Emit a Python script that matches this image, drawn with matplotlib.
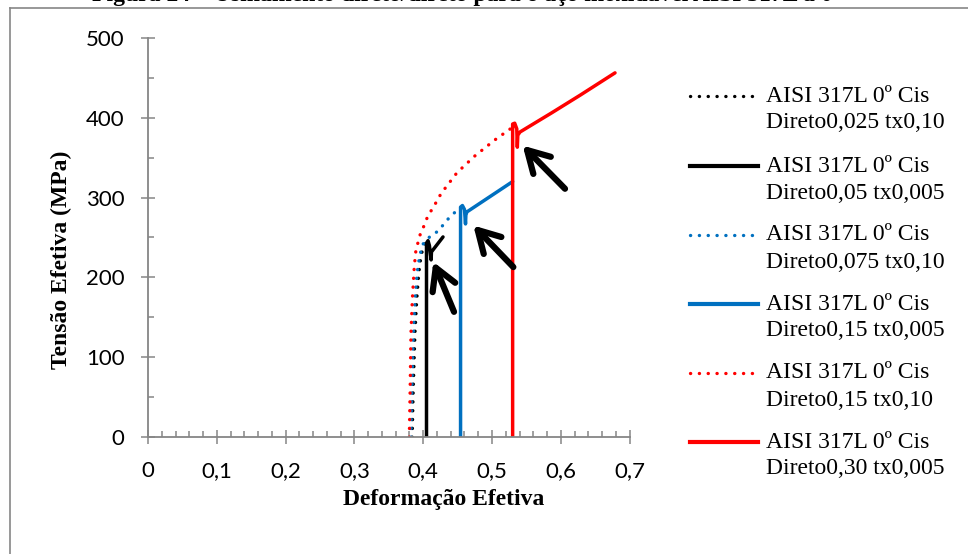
import matplotlib.pyplot as plt
from matplotlib.lines import Line2D
from matplotlib.ticker import MultipleLocator, FuncFormatter

# Curvas tensão x deformação (deformação efetiva, tensão em MPa)
labels = [
    "AISI 317L 0º Cis\nDireto0,025 tx0,10",
    "AISI 317L 0º Cis\nDireto0,05 tx0,005",
    "AISI 317L 0º Cis\nDireto0,075 tx0,10",
    "AISI 317L 0º Cis\nDireto0,15 tx0,005",
    "AISI 317L 0º Cis\nDireto0,15 tx0,10",
    "AISI 317L 0º Cis\nDireto0,30 tx0,005",
]

def_025 = [0.3840, 0.3855, 0.3880, 0.3905, 0.3935, 0.3970, 0.4010, 0.4050]
ten_025 = [0, 60, 130, 171, 205, 228, 240, 245]

def_05 = [0.4048, 0.4048, 0.4070, 0.4090, 0.4115, 0.4120, 0.4288]
ten_05 = [0, 243, 246, 240, 222, 232, 250.7]

def_075 = [0.3822, 0.3835, 0.3857, 0.3880, 0.3910, 0.3950, 0.4000, 0.4096,
           0.4216, 0.4360, 0.4442, 0.4543]
ten_075 = [0, 60, 130, 171, 205, 228, 242, 251, 258, 273, 280, 288]

def_15 = [0.4543, 0.4543, 0.4570, 0.4600, 0.4615, 0.4620, 0.4635, 0.5300]
ten_15 = [0, 288, 290, 285, 267, 278, 282, 320]

def_15b = [0.3798, 0.3810, 0.3822, 0.3841, 0.3870, 0.3894, 0.3960, 0.4014,
           0.4063, 0.4168, 0.4260, 0.4490, 0.4750, 0.5040, 0.5300]
ten_15b = [0, 60, 130, 171, 213, 234, 255, 265, 276, 291, 305, 331, 352, 372, 388]

def_30 = [0.5300, 0.5300, 0.5330, 0.5360, 0.5368, 0.5375, 0.5407, 0.5868,
          0.6280, 0.6788]
ten_30 = [0, 392, 393, 386, 363, 378, 382, 406, 428, 456]

series_x = [def_025, def_05, def_075, def_15, def_15b, def_30]
series_y = [ten_025, ten_05, ten_075, ten_15, ten_15b, ten_30]
colors = ["black", "black", "#0070C0", "#0070C0", "#FF0000", "#FF0000"]
dotted = [True, False, True, False, True, False]

# setas indicando o ponto de escoamento (ponta, cauda)
arrow_tips = [(0.5446, 365), (0.4729, 265), (0.4147, 219.5)]
arrow_tails = [(0.6061, 311), (0.5310, 213), (0.4448, 157)]

DOT = (0, (0.05, 2.6))
GRAY = "#868686"

fig = plt.figure(figsize=(9.68, 5.54), dpi=100)
W, H = 968, 554
ax = fig.add_axes([148 / W, (H - 437.3) / H, (629.6 - 148) / W, (437.3 - 37.7) / H])

for xs, ys, c, d in zip(series_x, series_y, colors, dotted):
    if d:
        ax.plot(xs, ys, color=c, lw=2.4, linestyle=DOT, dash_capstyle="round")
    else:
        ax.plot(xs, ys, color=c, lw=2.5, solid_capstyle="round", solid_joinstyle="round")

for tip, tail in zip(arrow_tips, arrow_tails):
    ax.annotate("", xy=tip, xytext=tail,
                arrowprops=dict(arrowstyle="->,head_length=0.7,head_width=0.4",
                                lw=4.5, color="black", mutation_scale=22,
                                shrinkA=0, shrinkB=0, capstyle="round"))

ax.set_xlim(0, 0.7)
ax.set_ylim(0, 500)
ax.xaxis.set_major_locator(MultipleLocator(0.1))
ax.xaxis.set_minor_locator(MultipleLocator(0.02))
ax.yaxis.set_major_locator(MultipleLocator(100))
ax.yaxis.set_minor_locator(MultipleLocator(50))
ax.xaxis.set_major_formatter(FuncFormatter(lambda v, p: ("%g" % round(v, 2)).replace(".", ",")))

for s in ["top", "right"]:
    ax.spines[s].set_visible(False)
for s in ["left", "bottom"]:
    ax.spines[s].set_color(GRAY)
    ax.spines[s].set_linewidth(1.3)

ax.tick_params(which="major", direction="inout", length=10, width=1.1, color=GRAY,
               labelsize=16, pad=12)
ax.tick_params(which="minor", direction="in", length=4.3, width=1.1, color=GRAY)
for lab in ax.get_xticklabels() + ax.get_yticklabels():
    lab.set_fontfamily("Lato")

ax.set_xlabel("Deformação Efetiva", family="Liberation Serif", fontweight="bold",
              fontsize=17)
ax.set_ylabel("Tensão Efetiva (MPa)", family="Liberation Serif", fontweight="bold",
              fontsize=17)
ax.xaxis.set_label_coords(0.615, -0.13)
ax.yaxis.set_label_coords(-0.158, 0.444)

# legenda à direita, com a amostra da linha alinhada à primeira linha do rótulo
leg_y = [96, 166, 235, 304, 373, 442]
for lab, c, d, yy in zip(labels, colors, dotted, leg_y):
    y0 = 1 - yy / H
    fig.add_artist(Line2D([690 / W, 758 / W], [y0, y0], transform=fig.transFigure,
                          color=c, lw=2.4 if d else 3.0,
                          linestyle=DOT if d else "-", dash_capstyle="round"))
    first, second = lab.split("\n")
    fig.text(766 / W, y0, first, family="Liberation Serif", fontsize=17, va="center")
    fig.text(766 / W, 1 - (yy + 27) / H, second, family="Liberation Serif",
             fontsize=17, va="center")

# moldura do gráfico e legenda da figura cortada no topo
fig.add_artist(Line2D([10 / W, 1], [1 - 8 / H, 1 - 8 / H], transform=fig.transFigure,
                      color=GRAY, lw=1.2))
fig.add_artist(Line2D([10 / W, 10 / W], [0, 1 - 8 / H], transform=fig.transFigure,
                      color=GRAY, lw=1.2))
fig.text(466 / W, 1 - 1.5 / H,
         "Figura 24 – Usinamento direto/direto para o aço inoxidável AISI 317L a 0º",
         family="Liberation Serif", fontweight="bold", fontsize=17,
         ha="center", va="baseline")

fig.savefig("out.png", dpi=100)
